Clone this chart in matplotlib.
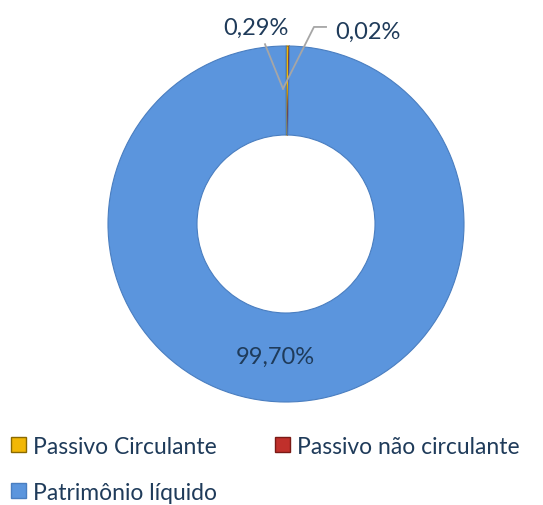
import matplotlib
matplotlib.use("Agg")
import matplotlib.pyplot as plt
from matplotlib.patches import Patch

categories = ["Passivo Circulante", "Passivo não circulante", "Patrimônio líquido"]
values = [0.29, 0.02, 99.70]
labels = ["0,29%", "0,02%", "99,70%"]
colors = ["#F2B705", "#C0302B", "#5B95DD"]
edge_colors = ["#8A6A00", "#7A1A16", "#4A7EC0"]
text_color = "#1F3B5A"

plt.rcParams['font.family'] = ['Lato', 'DejaVu Sans']

W, H = 543, 506
fig = plt.figure(figsize=(W / 100, H / 100), dpi=100)
cx, cy, R = 286, 225, 178
ax = fig.add_axes([(cx - R) / W, 1 - (cy + R) / H, 2 * R / W, 2 * R / H])

wedges, _ = ax.pie(values, colors=colors, startangle=90, counterclock=False,
                   radius=1, wedgeprops=dict(width=0.5, linewidth=0.8))
for w, ec in zip(wedges, edge_colors):
    w.set_edgecolor(ec)
ax.set_xlim(-1, 1)
ax.set_ylim(-1, 1)
ax.set_aspect('equal')
ax.axis('off')

# labels
ax.text(-0.17, 1.107, labels[0], ha='center', va='center', fontsize=17,
        color=text_color, clip_on=False)
ax.text(0.46, 1.08, labels[1], ha='center', va='center', fontsize=17,
        color=text_color, clip_on=False)
ax.text(-0.062, -0.742, labels[2], ha='center', va='center', fontsize=17,
        color=text_color)

# leader lines
ax.plot([-0.118, -0.017], [1.01, 0.76], color='#A6A6A6', lw=1.3, clip_on=False)
ax.plot([0.225, 0.157, -0.017], [1.107, 1.107, 0.76], color='#A6A6A6', lw=1.3, clip_on=False)

order = [0, 2, 1]
handles = [Patch(facecolor=colors[i], edgecolor=edge_colors[i]) for i in order]
fig.legend(handles, [categories[i] for i in order], loc='upper left',
           bbox_to_anchor=(0.02, 0.137),
           ncol=2, frameon=False, fontsize=16.5, labelcolor=text_color,
           handlelength=0.65, handleheight=0.65, handletextpad=0.3,
           columnspacing=2.55, labelspacing=1.1, borderaxespad=0, borderpad=0)

fig.savefig("out.png", dpi=100)
